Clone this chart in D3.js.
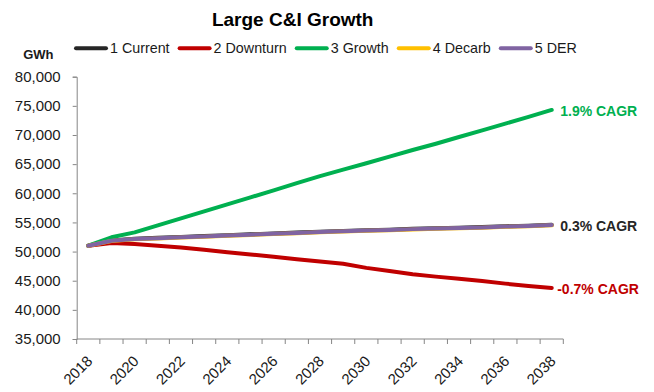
<!DOCTYPE html>
<html>
<head>
<meta charset="utf-8">
<script src="https://cdn.jsdelivr.net/npm/d3@7"></script>
<style>
  html, body { margin: 0; padding: 0; background: #fff; }
  svg { display: block; font-family: "Liberation Sans", Arial, sans-serif; }
</style>
</head>
<body>
<svg id="chart" width="654" height="392"></svg>
<script>
// ---------- data ----------
const years = [2018, 2019, 2020, 2021, 2022, 2023, 2024, 2025, 2026, 2027, 2028,
               2029, 2030, 2031, 2032, 2033, 2034, 2035, 2036, 2037, 2038];
const tickYears = [2018, 2020, 2022, 2024, 2026, 2028, 2030, 2032, 2034, 2036, 2038];
const seriesNames = ["1 Current", "2 Downturn", "3 Growth", "4 Decarb", "5 DER"];
const current  = [51000, 51900, 52200, 52350, 52500, 52650, 52800, 52950, 53100, 53250, 53400,
                  53550, 53650, 53750, 53900, 54000, 54100, 54200, 54350, 54450, 54580];
const downturn = [51000, 51450, 51300, 51000, 50700, 50300, 49900, 49500, 49100, 48700, 48300,
                  47900, 47200, 46650, 46100, 45700, 45350, 44950, 44500, 44100, 43750];
const growth   = [51000, 52450, 53300, 54500, 55700, 56900, 58100, 59300, 60500, 61750, 62950,
                  64050, 65150, 66300, 67430, 68500, 69650, 70800, 71950, 73100, 74300];
const decarb   = [51000, 51800, 52100, 52250, 52400, 52550, 52700, 52850, 53000, 53150, 53300,
                  53450, 53550, 53650, 53800, 53900, 54000, 54100, 54250, 54350, 54500];
const der      = [51000, 51850, 52150, 52300, 52450, 52600, 52750, 52900, 53050, 53200, 53350,
                  53500, 53600, 53700, 53850, 53950, 54050, 54150, 54300, 54400, 54550];
const yTicks = [35000, 40000, 45000, 50000, 55000, 60000, 65000, 70000, 75000, 80000];
const cagrLabels = [
  { series: "3 Growth",   text: "1.9% CAGR" },
  { series: "5 DER",      text: "0.3% CAGR" },
  { series: "2 Downturn", text: "-0.7% CAGR" }
];
const titleText = "Large C&I Growth";
const unitText = "GWh";

// ---------- styling ----------
const colors = {
  "1 Current": "#262626",
  "2 Downturn": "#C00000",
  "3 Growth": "#00B050",
  "4 Decarb": "#FFC000",
  "5 DER": "#8064A2"
};
const labelColors = { "3 Growth": "#00B050", "5 DER": "#262626", "2 Downturn": "#C00000" };
const valuesByName = {
  "1 Current": current, "2 Downturn": downturn, "3 Growth": growth,
  "4 Decarb": decarb, "5 DER": der
};

const svg = d3.select("#chart");
const plotL = 76.7, plotR = 563.3, plotT = 76.7, plotB = 339;
const axisColor = "#868686";
const textColor = "#1a1a1a";

const x = d3.scaleBand().domain(years).range([plotL, plotR]).paddingInner(0).paddingOuter(0);
const xc = d => x(d) + x.bandwidth() / 2;
const y = d3.scaleLinear().domain([35000, 80000]).range([plotB, plotT]);

// title
svg.append("text")
  .attr("x", 292.7).attr("y", 25.7)
  .attr("text-anchor", "middle")
  .attr("font-size", 19).attr("font-weight", "bold")
  .attr("fill", "#000")
  .text(titleText);

// unit
svg.append("text")
  .attr("x", 38.3).attr("y", 59.3)
  .attr("text-anchor", "middle")
  .attr("font-size", 13).attr("font-weight", "bold")
  .attr("fill", textColor)
  .text(unitText);

// y axis
const yAxis = d3.axisLeft(y).tickValues(yTicks).tickFormat(d3.format(",")).tickSize(4).tickPadding(12);
const gy = svg.append("g").attr("transform", `translate(${plotL},0)`).call(yAxis);
gy.select(".domain").attr("stroke", axisColor).attr("stroke-width", 1);
gy.selectAll(".tick line").attr("stroke", axisColor);
gy.selectAll(".tick text").attr("fill", textColor).attr("font-size", 15)
  .attr("font-family", "Liberation Sans, Arial, sans-serif");

// x axis: ticks between categories
const xAxisG = svg.append("g");
xAxisG.append("line")
  .attr("x1", plotL).attr("x2", plotR).attr("y1", plotB).attr("y2", plotB)
  .attr("stroke", axisColor).attr("stroke-width", 1);
const boundaries = years.map(d => x(d)).concat([plotR]);
xAxisG.selectAll("line.xt").data(boundaries).enter().append("line")
  .attr("class", "xt")
  .attr("x1", d => d).attr("x2", d => d)
  .attr("y1", plotB).attr("y2", plotB + 5)
  .attr("stroke", axisColor);
xAxisG.selectAll("text.xl").data(tickYears).enter().append("text")
  .attr("class", "xl")
  .attr("transform", d => `translate(${xc(d) + 5},${plotB + 23}) rotate(-45)`)
  .attr("text-anchor", "end")
  .attr("font-size", 15)
  .attr("fill", textColor)
  .text(d => d);

// lines
const line = d3.line().x((d, i) => xc(years[i])).y(d => y(d));
seriesNames.forEach(name => {
  svg.append("path")
    .datum(valuesByName[name])
    .attr("d", line)
    .attr("fill", "none")
    .attr("stroke", colors[name])
    .attr("stroke-width", 4)
    .attr("stroke-linejoin", "round")
    .attr("stroke-linecap", "round");
});

// CAGR labels
cagrLabels.forEach(l => {
  const vals = valuesByName[l.series];
  const last = vals[vals.length - 1];
  svg.append("text")
    .attr("x", xc(years[years.length - 1]) + (l.text.startsWith("-") ? 5.5 : 8.5))
    .attr("y", y(last) + 6.3)
    .attr("font-size", 14).attr("font-weight", "bold")
    .attr("fill", labelColors[l.series])
    .text(l.text);
});

// legend
const legend = svg.append("g");
let lx = 76;
const ly = 48.3;
seriesNames.forEach(name => {
  legend.append("line")
    .attr("x1", lx).attr("x2", lx + 30).attr("y1", ly).attr("y2", ly)
    .attr("stroke", colors[name]).attr("stroke-width", 4)
    .attr("stroke-linecap", "round");
  const t = legend.append("text")
    .attr("x", lx + 34).attr("y", ly + 5)
    .attr("font-size", 14.3)
    .attr("fill", textColor)
    .text(name);
  lx = lx + 34 + t.node().getComputedTextLength() + 10;
});
</script>
</body>
</html>
